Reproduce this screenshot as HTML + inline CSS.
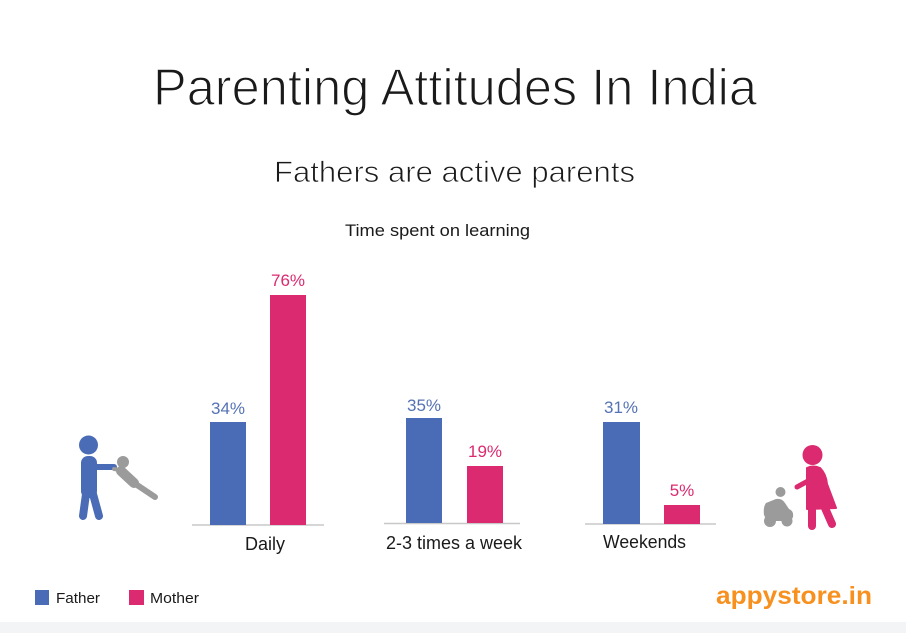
<!DOCTYPE html>
<html>
<head>
<meta charset="utf-8">
<style>
html,body{margin:0;padding:0;background:#fff;}
body{width:906px;height:633px;overflow:hidden;}
svg{display:block;}
text{font-family:"Liberation Sans",sans-serif;}
</style>
</head>
<body>
<svg width="906" height="633" viewBox="0 0 906 633" xmlns="http://www.w3.org/2000/svg">
  <rect x="0" y="0" width="906" height="633" fill="#ffffff"/>
  <rect x="0" y="622" width="906" height="11" fill="#f3f4f6"/>

  <!-- Titles (white stroke thins the glyphs to mimic a light weight) -->
  <text x="153" y="105" font-size="51.5" fill="#1a1a1a" stroke="#ffffff" stroke-width="1.3" textLength="604" lengthAdjust="spacingAndGlyphs">Parenting Attitudes In India</text>
  <text x="274" y="182" font-size="30" fill="#1a1a1a" stroke="#ffffff" stroke-width="0.8" textLength="361" lengthAdjust="spacingAndGlyphs">Fathers are active parents</text>
  <text x="345" y="236" font-size="16.5" fill="#1a1a1a" textLength="185" lengthAdjust="spacingAndGlyphs">Time spent on learning</text>

  <!-- Group 1 : Daily -->
  <line x1="192" y1="525" x2="324" y2="525" stroke="#c8c8c8" stroke-width="1.5"/>
  <rect x="210" y="422" width="36" height="103" fill="#4a6cb6"/>
  <rect x="270" y="295" width="36" height="230" fill="#db2a6f"/>
  <text x="228" y="414" font-size="17" fill="#5572b5" text-anchor="middle">34%</text>
  <text x="288" y="286" font-size="17" fill="#db2a6f" text-anchor="middle">76%</text>
  <text x="265" y="550" font-size="18" fill="#1a1a1a" text-anchor="middle">Daily</text>

  <!-- Group 2 -->
  <line x1="384" y1="523.5" x2="520" y2="523.5" stroke="#c8c8c8" stroke-width="1.5"/>
  <rect x="406" y="418" width="36" height="105" fill="#4a6cb6"/>
  <rect x="467" y="466" width="36" height="57" fill="#db2a6f"/>
  <text x="424" y="411" font-size="17" fill="#5572b5" text-anchor="middle">35%</text>
  <text x="485" y="457" font-size="17" fill="#db2a6f" text-anchor="middle">19%</text>
  <text x="386" y="549" font-size="18" fill="#1a1a1a" textLength="136" lengthAdjust="spacingAndGlyphs">2-3 times a week</text>

  <!-- Group 3 -->
  <line x1="585" y1="524" x2="716" y2="524" stroke="#c8c8c8" stroke-width="1.5"/>
  <rect x="603" y="422" width="37" height="102" fill="#4a6cb6"/>
  <rect x="664" y="505" width="36" height="19" fill="#db2a6f"/>
  <text x="621" y="413" font-size="17" fill="#5572b5" text-anchor="middle">31%</text>
  <text x="682" y="496" font-size="17" fill="#db2a6f" text-anchor="middle">5%</text>
  <text x="603" y="548" font-size="18" fill="#1a1a1a" textLength="83" lengthAdjust="spacingAndGlyphs">Weekends</text>

  <!-- Father icon -->
  <g fill="#4a6cb6" stroke="#4a6cb6" stroke-linecap="round" stroke-linejoin="round">
    <circle cx="88.5" cy="445" r="9.5" stroke="none"/>
    <rect x="81" y="456" width="16" height="42" rx="7" stroke="none"/>
    <line x1="94" y1="467" x2="114" y2="467" stroke-width="6"/>
    <line x1="86" y1="494" x2="83" y2="516" stroke-width="8"/>
    <line x1="93" y1="494" x2="99" y2="516" stroke-width="8"/>
  </g>
  <!-- child (gray) -->
  <g fill="#9b9b9b" stroke="#9b9b9b" stroke-linecap="round" stroke-linejoin="round">
    <circle cx="123" cy="462" r="6" stroke="none"/>
    <line x1="121" y1="471" x2="134" y2="483" stroke-width="10"/>
    <line x1="134" y1="483" x2="155" y2="497" stroke-width="6"/>
    <line x1="120" y1="470" x2="114" y2="469" stroke-width="4"/>
  </g>

  <!-- Mother icon -->
  <g fill="#db2a6f" stroke="#db2a6f" stroke-linecap="round" stroke-linejoin="round">
    <circle cx="812.5" cy="455" r="10" stroke="none"/>
    <path d="M807 468 Q813 465 820 468 Q826 474 827 484 L836 508 L807 509 Z" stroke-width="2"/>
    <line x1="808" y1="481" x2="797" y2="487" stroke-width="5"/>
    <line x1="812" y1="508" x2="812" y2="526" stroke-width="8"/>
    <line x1="825" y1="508" x2="832" y2="524" stroke-width="8"/>
  </g>
  <!-- toy rider (gray) -->
  <g fill="#9b9b9b" stroke="none">
    <circle cx="780.5" cy="492" r="5"/>
    <path d="M766 503 L776 499 Q782 498 785 503 L789 509 Q794 511 793 517 L791 521 L767 521 L764 515 Q763 507 766 503 Z"/>
    <circle cx="770" cy="521" r="6"/>
    <circle cx="787" cy="521" r="5.5"/>
  </g>

  <!-- Legend -->
  <rect x="35" y="590" width="14" height="15" fill="#4a6cb6"/>
  <text x="56" y="603" font-size="15" fill="#1a1a1a" textLength="44" lengthAdjust="spacingAndGlyphs">Father</text>
  <rect x="129" y="590" width="15" height="15" fill="#db2a6f"/>
  <text x="150" y="603" font-size="15" fill="#1a1a1a" textLength="49" lengthAdjust="spacingAndGlyphs">Mother</text>

  <!-- Logo -->
  <text x="716" y="604" font-size="25" font-weight="bold" fill="#f7901e" textLength="156" lengthAdjust="spacingAndGlyphs">appystore.in</text>
</svg>
</body>
</html>
